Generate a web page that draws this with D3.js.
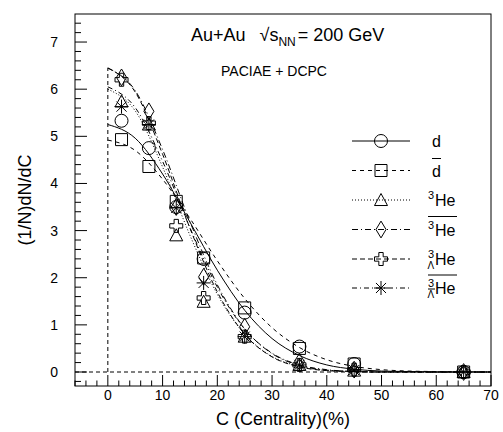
<!DOCTYPE html>
<html><head><meta charset="utf-8">
<script src="https://cdn.jsdelivr.net/npm/d3@7"></script>
<style>body{margin:0;background:#fff} text{font-family:"Liberation Sans",Arial,sans-serif;fill:#000}</style>
</head><body><svg id="c" width="503" height="432"></svg>
<script>
// ---- data ----
const centrality = [2.5, 7.5, 12.5, 17.5, 25, 35, 45, 65];
const dVals      = [5.33, 4.75, 3.5, 2.4, 1.26, 0.54, 0.17, 0.0];
const dbarVals   = [4.93, 4.36, 3.62, 2.42, 1.36, 0.50, 0.17, 0.0];
const he3Vals    = [5.74, 5.25, 2.9, 1.49, 0.75, 0.15, 0.03, 0.0];
const he3barVals = [6.25, 5.53, 3.5, 2.02, 0.96, 0.22, 0.05, 0.0];
const hLVals     = [6.2, 5.28, 3.1, 1.57, 0.75, 0.15, 0.05, 0.0];
const hLbarVals  = [5.63, 5.25, 3.48, 1.89, 0.75, 0.15, 0.04, 0.0];

const curveX       = [0, 5, 10, 15, 20, 25, 30, 35, 40, 45, 50, 55, 60, 70];
const dCurve       = [5.25, 4.96, 4.2, 3.18, 2.16, 1.31, 0.71, 0.35, 0.15, 0.06, 0.02, 0.01, 0, 0];
const dbarCurve    = [4.92, 4.7, 4.09, 3.26, 2.36, 1.56, 0.94, 0.52, 0.26, 0.12, 0.05, 0.02, 0.01, 0];
const he3Curve     = [6.0, 5.54, 4.35, 2.90, 1.65, 0.80, 0.33, 0.12, 0.03, 0.01, 0, 0, 0, 0];
const he3barCurve  = [6.45, 5.97, 4.72, 3.19, 1.85, 0.92, 0.39, 0.14, 0.04, 0.01, 0, 0, 0, 0];
const hLCurve      = [6.45, 5.94, 4.62, 3.05, 1.70, 0.80, 0.32, 0.11, 0.03, 0.01, 0, 0, 0, 0];
const hLbarCurve   = [6.05, 5.61, 4.47, 3.06, 1.80, 0.91, 0.40, 0.15, 0.05, 0.01, 0, 0, 0, 0];

const xTicks = [0, 10, 20, 30, 40, 50, 60, 70];
const yTicks = [0, 1, 2, 3, 4, 5, 6, 7];

// ---- layout ----
const svg = d3.select("#c");
const L = 75, R = 491, T = 14, B = 386;
const x = d3.scaleLinear().domain([-6, 70]).range([L, R]);
const y = d3.scaleLinear().domain([-0.297, 7.595]).range([B, T]);

// frame
svg.append("rect").attr("x", L).attr("y", T).attr("width", R - L).attr("height", B - T)
  .attr("fill", "none").attr("stroke", "#000").attr("stroke-width", 1);

// x ticks (inside, from bottom)
const xMinor = d3.range(-6, 70.01, 2);
svg.append("g").selectAll("line").data(xMinor).join("line")
  .attr("x1", d => x(d)).attr("x2", d => x(d))
  .attr("y1", B).attr("y2", d => B - (d % 10 === 0 ? 11 : 5.5))
  .attr("stroke", "#000");
svg.append("g").selectAll("text").data(xTicks).join("text")
  .attr("x", d => x(d)).attr("y", 400).attr("text-anchor", "middle")
  .attr("font-size", 14).text(d => d);

// y ticks (inside, from left)
const yMinor = d3.range(-0.2, 7.6, 0.2).map(v => Math.round(v * 10) / 10);
svg.append("g").selectAll("line").data(yMinor).join("line")
  .attr("y1", d => y(d)).attr("y2", d => y(d))
  .attr("x1", L).attr("x2", d => L + (Math.abs(d - Math.round(d)) < 1e-6 ? 12 : 6))
  .attr("stroke", "#000");
svg.append("g").selectAll("text").data(yTicks).join("text")
  .attr("x", 58).attr("y", d => y(d) + 5).attr("text-anchor", "end")
  .attr("font-size", 14).text(d => d);

// axis titles
svg.append("text").attr("x", 283).attr("y", 425).attr("text-anchor", "middle")
  .attr("font-size", 18).text("C (Centrality)(%)");
svg.append("text").attr("transform", "translate(31,200) rotate(-90)").attr("text-anchor", "middle")
  .attr("font-size", 18).text("(1/N)dN/dC");

// reference dashed lines
svg.append("line").attr("x1", L).attr("x2", R).attr("y1", y(0)).attr("y2", y(0))
  .attr("stroke", "#000").attr("stroke-dasharray", "4 3");
svg.append("line").attr("x1", x(0)).attr("x2", x(0)).attr("y1", y(0)).attr("y2", y(6.45))
  .attr("stroke", "#000").attr("stroke-dasharray", "4 3");

// ---- series ----
const sym = {
  circle: s => { const r = s / 2; return `M${-r},0A${r},${r} 0 1,0 ${r},0A${r},${r} 0 1,0 ${-r},0Z`; },
  square: s => { const r = s / 2; return `M${-r},${-r}H${r}V${r}H${-r}Z`; },
  triangle: s => { const r = s / 2; return `M0,${-r}L${r},${r * 0.85}H${-r}Z`; },
  diamond: s => { const h = s * 0.6, w = s * 0.36; return `M0,${-h}L${w},0L0,${h}L${-w},0Z`; },
  cross: s => { const a = s / 2, b = s / 6; return `M${-b},${-a}H${b}V${-b}H${a}V${b}H${b}V${a}H${-b}V${b}H${-a}V${-b}H${-b}Z`; },
  star: s => { const a = s / 2, c = a * 0.72; return `M${-a},0H${a}M0,${-a}V${a}M${-c},${-c}L${c},${c}M${-c},${c}L${c},${-c}`; }
};

const series = [
  { vals: dVals, curve: dCurve, marker: "circle", size: 13, dash: null },
  { vals: dbarVals, curve: dbarCurve, marker: "square", size: 12, dash: "4 4" },
  { vals: he3Vals, curve: he3Curve, marker: "triangle", size: 13, dash: "1 2" },
  { vals: he3barVals, curve: he3barCurve, marker: "diamond", size: 14, dash: "6 3 1 3" },
  { vals: hLVals, curve: hLCurve, marker: "cross", size: 13, dash: "5 3" },
  { vals: hLbarVals, curve: hLbarCurve, marker: "star", size: 14, dash: "5 3 1 3" }
];

const line = d3.line().x(d => x(d[0])).y(d => y(d[1])).curve(d3.curveMonotoneX);

series.forEach(s => {
  svg.append("path").attr("d", line(curveX.map((cx, i) => [cx, s.curve[i]])))
    .attr("fill", "none").attr("stroke", "#000").attr("stroke-width", 1)
    .attr("stroke-dasharray", s.dash);
});
series.forEach(s => {
  svg.append("g").selectAll("path").data(centrality.map((c, i) => [c, s.vals[i]])).join("path")
    .attr("transform", d => `translate(${x(d[0])},${y(d[1])})`)
    .attr("d", sym[s.marker](s.size))
    .attr("fill", "none").attr("stroke", "#000").attr("stroke-width", 1);
});

// ---- title ----
const t = svg.append("text").attr("x", 191).attr("y", 41).attr("font-size", 18);
t.append("tspan").text("Au+Au");
t.append("tspan").attr("dx", 14).text("\u221A");
t.append("tspan").text("s");
t.append("tspan").attr("font-size", 12).attr("dy", 5).text("NN");
t.append("tspan").attr("dy", -5).attr("dx", 2).text("= 200 GeV");
svg.append("text").attr("x", 221).attr("y", 76).attr("font-size", 14).text("PACIAE + DCPC");

// ---- legend ----
const legY = [141, 170.5, 200, 229.5, 259, 288];
const lx1 = 352, lx2 = 410, mx = 381, tx = 428;
series.forEach((s, i) => {
  const g = svg.append("g");
  g.append("line").attr("x1", lx1).attr("x2", lx2).attr("y1", legY[i]).attr("y2", legY[i])
    .attr("stroke", "#000").attr("stroke-dasharray", s.dash);
  g.append("path").attr("transform", `translate(${mx},${legY[i]})`).attr("d", sym[s.marker](s.size))
    .attr("fill", "none").attr("stroke", "#000");
});
// d
svg.append("text").attr("x", tx + 4).attr("y", legY[0] + 6).attr("font-size", 16).text("d");
// dbar
svg.append("text").attr("x", tx + 4).attr("y", legY[1] + 6).attr("font-size", 16).text("d");
svg.append("line").attr("x1", tx + 4).attr("x2", tx + 13).attr("y1", legY[1] - 12).attr("y2", legY[1] - 12).attr("stroke", "#000");
// 3He variants
function he(i, sub, bar, subBar) {
  const yy = legY[i] + 6;
  svg.append("text").attr("x", tx).attr("y", yy - 7).attr("font-size", 11).text("3");
  if (sub) svg.append("text").attr("x", tx - 0.5).attr("y", yy + 4).attr("font-size", 10).text("\u039B");
  if (subBar) svg.append("line").attr("x1", tx).attr("x2", tx + 7).attr("y1", yy - 5).attr("y2", yy - 5).attr("stroke", "#000");
  svg.append("text").attr("x", tx + 7).attr("y", yy).attr("font-size", 16).text("He");
  if (bar) svg.append("line").attr("x1", tx).attr("x2", tx + 29).attr("y1", yy - 19).attr("y2", yy - 19).attr("stroke", "#000");
}
he(2, false, false, false);
he(3, false, true, false);
he(4, true, false, false);
he(5, true, true, true);
</script></body></html>
